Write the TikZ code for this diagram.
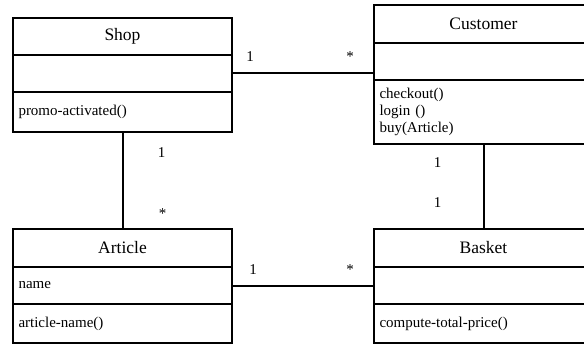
\documentclass[tikz,border=0pt]{standalone}
\usepackage{fontspec}
\setmainfont{Liberation Serif}
\usetikzlibrary{positioning}

\tikzset{
    compart/.style={draw, line width=2pt, outer sep=0pt, minimum width=219pt, inner xsep=5.5pt, font=\fontsize{15}{17}\selectfont},
    classname/.style={compart, minimum height=38pt, align=center, font=\fontsize{17.5}{20}\selectfont},
    members/.style={compart, text width=208pt, align=left},
    assoc/.style={line width=2pt},
    mult/.style={inner sep=0pt, font=\fontsize{15}{17}\selectfont},
}

\begin{document}
\begin{tikzpicture}[x=1pt,y=-1pt]

    % Picture frame
    \clip (0,0) rectangle (584,345);

    % Class Shop
    \node[classname, anchor=north west, minimum height=37pt] (shop) at (13,18) {Shop};
    \node[members, below=0pt of shop, minimum height=37pt] (shop attr) {};
    \node[members, below=0pt of shop attr, minimum height=40pt] (shop ops) {promo-activated()};

    % Class Customer
    \node[classname, anchor=north west] (customer) at (374,5) {Customer};
    \node[members, below=0pt of customer, minimum height=37pt] (customer attr) {};
    \node[members, below=0pt of customer attr, minimum height=64pt] (customer ops) {checkout()\\login ()\\buy(Article)};

    % Class Article
    \node[classname, anchor=north west] (article) at (13,229) {Article};
    \node[members, below=0pt of article, minimum height=37pt] (article attr) {name};
    \node[members, below=0pt of article attr, minimum height=39pt] (article ops) {article-name()};

    % Class Basket
    \node[classname, anchor=north west] (basket) at (374,229) {Basket};
    \node[members, below=0pt of basket, minimum height=37pt] (basket attr) {};
    \node[members, below=0pt of basket attr, minimum height=39pt] (basket ops) {compute-total-price()};

    % Associations with multiplicities
    \draw[assoc] (shop attr.east) -- (shop attr.east -| customer.west)
        node[mult, pos=0, xshift=18pt, yshift=17pt] {1}
        node[mult, pos=1, xshift=-24pt, yshift=17pt] {*};
    \draw[assoc] (shop ops.south) -- (article.north)
        node[mult, pos=0, xshift=39pt, yshift=-21pt] {1}
        node[mult, pos=1, xshift=40pt, yshift=15pt] {*};
    \draw[assoc] (customer ops.south) -- (basket.north)
        node[mult, pos=0, xshift=-46pt, yshift=-19pt] {1}
        node[mult, pos=1, xshift=-46pt, yshift=26pt] {1};
    \draw[assoc] (article attr.east) -- (article attr.east -| basket.west)
        node[mult, pos=0, xshift=21pt, yshift=16pt] {1}
        node[mult, pos=1, xshift=-24pt, yshift=16pt] {*};

\end{tikzpicture}
\end{document}
